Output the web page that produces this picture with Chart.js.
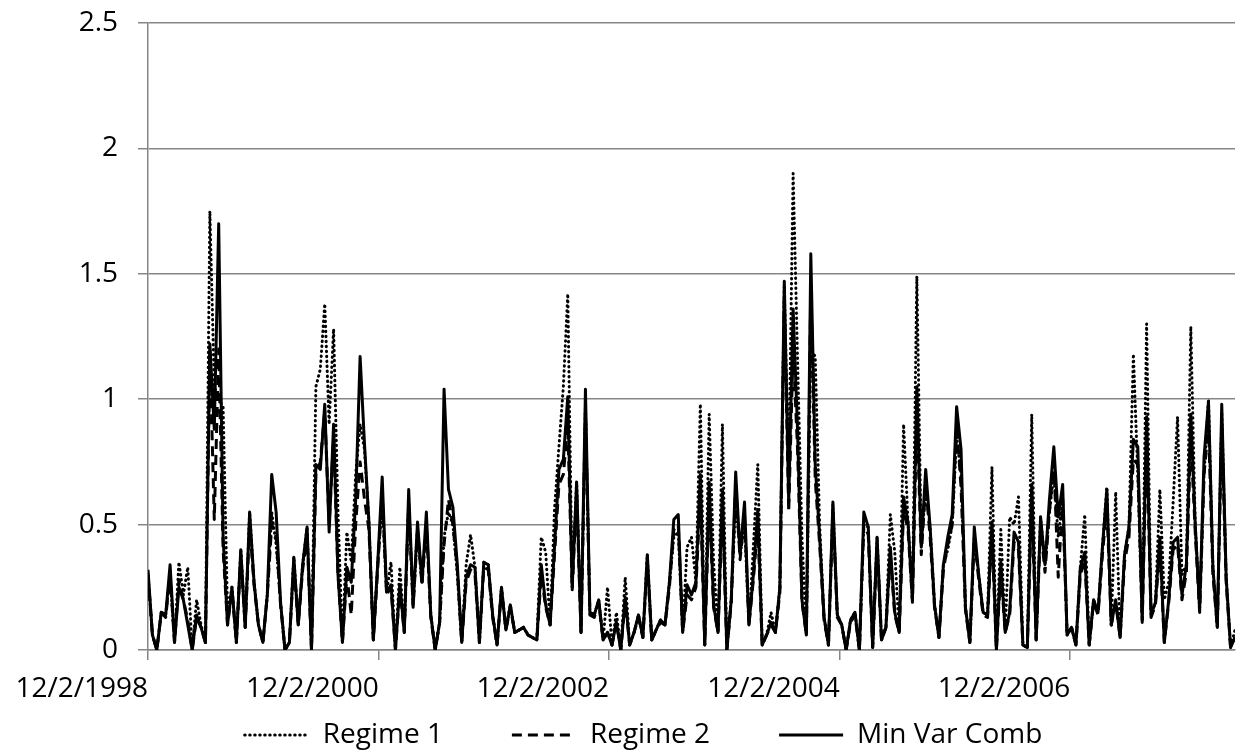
<!DOCTYPE html>
<html>
<head>
<meta charset="utf-8">
<script src="https://cdn.jsdelivr.net/npm/chart.js@4.4.1/dist/chart.umd.min.js"></script>
<style>
  html, body { margin: 0; padding: 0; background: #fff; }
  canvas { display: block; }
</style>
</head>
<body>
<canvas id="chart" width="1237" height="751"></canvas>
<script>
// one reading every 14 days starting 12/2/1998
const stepDays = 14;
const tickDays = [0, 731, 1461, 2192, 2922];
const tickLabels = ['12/2/1998', '12/2/2000', '12/2/2002', '12/2/2004', '12/2/2006'];
const seriesNames = ['Regime 1', 'Regime 2', 'Min Var Comb'];

const regime1 = [
  0.30,0.06,0.00,0.15,0.14,0.30,0.03,0.35,0.22,0.33,
  0.00,0.20,0.10,0.03,1.75,1.05,1.00,0.97,0.15,0.25,
  0.03,0.40,0.09,0.55,0.27,0.10,0.03,0.22,0.55,0.42,
  0.19,0.00,0.03,0.37,0.10,0.34,0.49,0.00,1.05,1.12,
  1.38,0.90,1.28,0.55,0.03,0.47,0.35,0.70,0.90,0.80,
  0.51,0.04,0.35,0.60,0.23,0.35,0.00,0.33,0.07,0.60,
  0.18,0.48,0.27,0.50,0.14,0.00,0.11,0.45,0.55,0.50,
  0.30,0.03,0.34,0.46,0.33,0.03,0.35,0.34,0.14,0.02,
  0.25,0.08,0.18,0.07,0.08,0.09,0.06,0.05,0.04,0.45,
  0.39,0.10,0.56,0.81,1.05,1.42,0.25,0.67,0.07,0.98,
  0.15,0.14,0.20,0.04,0.25,0.02,0.15,0.00,0.29,0.02,
  0.07,0.14,0.05,0.38,0.04,0.08,0.12,0.10,0.27,0.45,
  0.47,0.07,0.41,0.45,0.27,0.98,0.02,0.94,0.35,0.07,
  0.90,0.00,0.20,0.60,0.38,0.50,0.10,0.41,0.74,0.02,
  0.06,0.15,0.07,0.25,1.45,0.70,1.90,1.16,0.45,0.06,
  1.20,1.17,0.50,0.13,0.02,0.58,0.14,0.10,0.00,0.12,
  0.15,0.00,0.50,0.49,0.01,0.45,0.04,0.09,0.54,0.39,
  0.07,0.90,0.51,0.20,1.49,0.41,0.65,0.49,0.18,0.05,
  0.34,0.40,0.50,0.85,0.70,0.17,0.03,0.45,0.30,0.15,
  0.14,0.73,0.00,0.48,0.07,0.53,0.50,0.61,0.02,0.01,
  0.94,0.04,0.53,0.34,0.55,0.70,0.45,0.60,0.06,0.09,
  0.02,0.33,0.54,0.02,0.20,0.15,0.41,0.65,0.10,0.63,
  0.05,0.38,0.49,1.18,0.70,0.12,1.30,0.14,0.19,0.64,
  0.20,0.27,0.59,0.93,0.30,0.34,1.29,0.50,0.16,0.70,
  1.00,0.33,0.09,0.95,0.29,0.01,0.08
];

const regime2 = [
  0.30,0.06,0.00,0.15,0.13,0.30,0.03,0.28,0.20,0.12,
  0.00,0.13,0.09,0.03,1.20,0.52,1.20,0.40,0.10,0.24,
  0.03,0.38,0.09,0.50,0.26,0.10,0.03,0.22,0.50,0.45,
  0.18,0.00,0.03,0.35,0.10,0.32,0.46,0.00,0.70,0.75,
  0.95,0.50,0.85,0.30,0.03,0.30,0.14,0.50,0.75,0.60,
  0.48,0.04,0.33,0.62,0.22,0.25,0.00,0.25,0.07,0.58,
  0.17,0.48,0.26,0.50,0.13,0.00,0.11,0.42,0.60,0.50,
  0.32,0.03,0.27,0.32,0.30,0.03,0.33,0.32,0.13,0.02,
  0.24,0.08,0.17,0.07,0.08,0.09,0.06,0.05,0.04,0.30,
  0.17,0.10,0.38,0.66,0.70,0.90,0.24,0.62,0.07,0.95,
  0.14,0.13,0.19,0.04,0.07,0.02,0.11,0.00,0.20,0.02,
  0.07,0.13,0.05,0.35,0.04,0.08,0.11,0.10,0.25,0.48,
  0.50,0.07,0.22,0.20,0.25,0.62,0.02,0.60,0.17,0.07,
  0.58,0.00,0.19,0.66,0.36,0.54,0.10,0.28,0.50,0.02,
  0.06,0.10,0.07,0.23,1.40,0.55,1.20,0.80,0.19,0.06,
  1.45,0.68,0.42,0.12,0.02,0.55,0.13,0.10,0.00,0.11,
  0.14,0.00,0.50,0.46,0.01,0.42,0.04,0.09,0.38,0.14,
  0.07,0.56,0.48,0.19,0.95,0.38,0.66,0.45,0.17,0.05,
  0.32,0.42,0.50,0.90,0.65,0.16,0.03,0.45,0.28,0.14,
  0.13,0.47,0.00,0.32,0.07,0.14,0.43,0.40,0.02,0.01,
  0.60,0.04,0.49,0.31,0.55,0.75,0.29,0.60,0.06,0.09,
  0.02,0.30,0.36,0.02,0.19,0.14,0.38,0.58,0.10,0.19,
  0.05,0.35,0.45,0.76,0.74,0.11,0.85,0.13,0.18,0.41,
  0.03,0.19,0.40,0.42,0.20,0.31,0.85,0.47,0.15,0.70,
  0.90,0.30,0.09,0.90,0.27,0.01,0.05
];

const minVarComb = [
  0.32,0.06,0.00,0.15,0.14,0.34,0.03,0.25,0.20,0.10,
  0.00,0.14,0.09,0.03,1.22,0.88,1.70,0.45,0.10,0.25,
  0.03,0.40,0.09,0.55,0.27,0.10,0.03,0.22,0.70,0.55,
  0.19,0.00,0.03,0.37,0.10,0.34,0.49,0.00,0.74,0.72,
  0.98,0.47,0.90,0.30,0.03,0.33,0.27,0.60,1.17,0.82,
  0.51,0.04,0.35,0.69,0.23,0.26,0.00,0.26,0.07,0.64,
  0.18,0.51,0.27,0.55,0.14,0.00,0.11,1.04,0.64,0.57,
  0.34,0.03,0.29,0.34,0.33,0.03,0.35,0.34,0.14,0.02,
  0.25,0.08,0.18,0.07,0.08,0.09,0.06,0.05,0.04,0.34,
  0.18,0.10,0.41,0.72,0.76,1.01,0.25,0.67,0.07,1.04,
  0.15,0.14,0.20,0.04,0.07,0.02,0.11,0.00,0.21,0.02,
  0.07,0.14,0.05,0.38,0.04,0.08,0.12,0.10,0.27,0.52,
  0.54,0.07,0.26,0.22,0.27,0.70,0.02,0.67,0.18,0.07,
  0.64,0.00,0.20,0.71,0.38,0.59,0.10,0.30,0.56,0.02,
  0.06,0.11,0.07,0.25,1.47,0.59,1.36,0.88,0.20,0.06,
  1.58,0.74,0.45,0.13,0.02,0.59,0.14,0.10,0.00,0.12,
  0.15,0.00,0.55,0.49,0.01,0.45,0.04,0.09,0.41,0.15,
  0.07,0.61,0.51,0.20,1.05,0.41,0.72,0.49,0.18,0.05,
  0.34,0.45,0.54,0.97,0.80,0.17,0.03,0.49,0.30,0.15,
  0.14,0.51,0.00,0.35,0.07,0.15,0.47,0.43,0.02,0.01,
  0.66,0.04,0.53,0.34,0.60,0.81,0.53,0.66,0.06,0.09,
  0.02,0.33,0.39,0.02,0.20,0.15,0.41,0.64,0.10,0.20,
  0.05,0.38,0.49,0.84,0.81,0.12,0.93,0.14,0.19,0.45,
  0.03,0.20,0.43,0.45,0.22,0.34,0.94,0.50,0.16,0.77,
  0.99,0.33,0.09,0.98,0.29,0.01,0.05
];

const days = minVarComb.map((_, i) => i * stepDays);

const font = { family: '"Open Sans", sans-serif', size: 28 };
const gridGrey = '#868686';

new Chart(document.getElementById('chart'), {
    type: 'line',
    data: {
        labels: days,
        datasets: [
            {
                label: seriesNames[0],
                data: regime1,
                borderColor: '#000',
                borderWidth: 3,
                borderDash: [0.5, 4.5],
                borderCapStyle: 'round',
                order: 2
            },
            {
                label: seriesNames[1],
                data: regime2,
                borderColor: '#000',
                borderWidth: 3,
                borderDash: [10, 6],
                order: 1
            },
            {
                label: seriesNames[2],
                data: minVarComb,
                borderColor: '#000',
                borderWidth: 3,
                order: 0
            }
        ]
    },
    options: {
        responsive: false,
        animation: false,
        devicePixelRatio: 1,
        layout: { padding: { left: -12, right: 2, top: 23, bottom: -8 } },
        elements: {
            point: { radius: 0, hoverRadius: 0 },
            line: { tension: 0, borderJoinStyle: 'round', fill: false }
        },
        plugins: {
            tooltip: { enabled: false },
            legend: {
                position: 'bottom',
                labels: {
                    usePointStyle: true,
                    pointStyleWidth: 128,
                    padding: 5,
                    color: '#000',
                    font: font,
                    generateLabels: chart => chart.data.datasets.map((ds, i) => ({
                        text: ds.label,
                        datasetIndex: i,
                        strokeStyle: ds.borderColor,
                        fillStyle: ds.borderColor,
                        fontColor: '#000',
                        lineWidth: ds.borderWidth,
                        lineDash: ds.borderDash || [],
                        lineCap: ds.borderCapStyle || 'butt',
                        pointStyle: 'dash',
                        hidden: false
                    }))
                }
            }
        },
        scales: {
            x: {
                type: 'linear',
                min: 0,
                max: days[days.length - 1],
                afterBuildTicks: scale => {
                    scale.ticks = tickDays.map(v => ({ value: v }));
                },
                afterFit: scale => { scale.height = 66; },
                ticks: {
                    autoSkip: false,
                    maxRotation: 0,
                    align: 'end',
                    padding: 12,
                    color: '#000',
                    font: font,
                    callback: (value, index) => tickLabels[index]
                },
                grid: {
                    drawOnChartArea: false,
                    drawTicks: true,
                    tickLength: 10,
                    color: gridGrey,
                    lineWidth: 1.5
                },
                border: { color: gridGrey, width: 1.5 }
            },
            y: {
                min: 0,
                max: 2.5,
                afterFit: scale => {
                    scale.width = 160;
                    scale.paddingTop = 0;
                    scale.paddingBottom = 0;
                },
                ticks: {
                    stepSize: 0.5,
                    padding: 20,
                    color: '#000',
                    font: font,
                    callback: value => String(value)
                },
                grid: {
                    color: gridGrey,
                    lineWidth: 1.5,
                    tickLength: 10
                },
                border: { color: gridGrey, width: 1.5 }
            }
        }
    }
});
</script>
</body>
</html>
